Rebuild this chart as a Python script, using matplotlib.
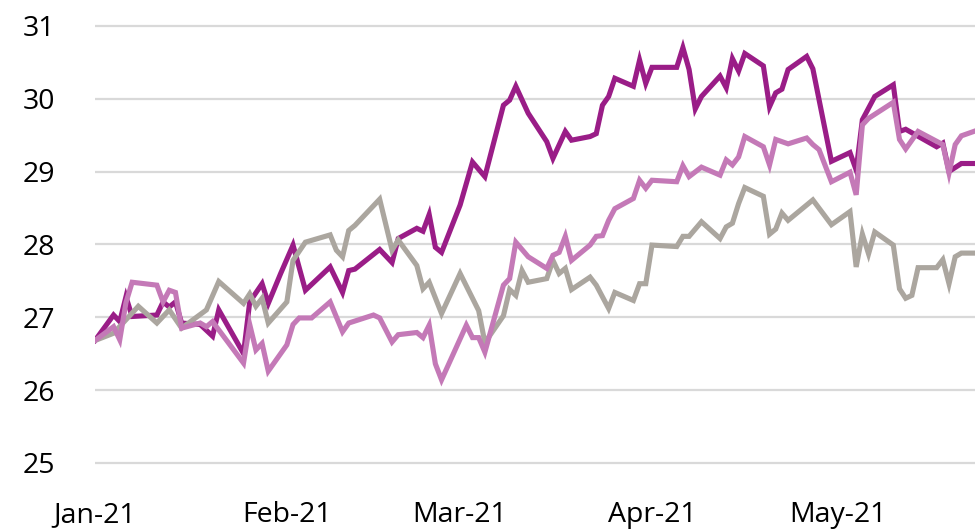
import pandas as pd
import matplotlib.pyplot as plt
import matplotlib.dates as mdates

plt.rcParams['font.family'] = ['Open Sans', 'DejaVu Sans']

# values, one list of dates + one of values per series
dates_purple = ['01-01', '01-04', '01-05', '01-06', '01-07', '01-11', '01-12', '01-13', '01-14',
                '01-15', '01-18', '01-20', '01-21', '01-25', '01-26', '01-28', '01-29', '01-31',
                '02-02', '02-04', '02-08', '02-10', '02-11', '02-12', '02-16', '02-18', '02-19',
                '02-22', '02-23', '02-24', '02-25', '02-26', '03-01', '03-03', '03-05', '03-08',
                '03-09', '03-10', '03-12', '03-15', '03-16', '03-18', '03-19', '03-22', '03-23',
                '03-24', '03-25', '03-26', '03-29', '03-30', '03-31', '04-01', '04-05', '04-06',
                '04-07', '04-08', '04-09', '04-12', '04-13', '04-14', '04-15', '04-16', '04-19',
                '04-20', '04-21', '04-22', '04-23', '04-26', '04-27', '04-30', '05-03', '05-04',
                '05-05', '05-07', '05-10', '05-11', '05-12', '05-17', '05-18', '05-19', '05-21',
                '05-24']
purple = [26.68, 27.03, 26.94, 27.28, 27.01, 27.03, 27.21, 27.14, 27.21,
          26.92, 26.90, 26.74, 27.10, 26.50, 27.21, 27.46, 27.19, 27.60,
          27.99, 27.37, 27.69, 27.34, 27.64, 27.66, 27.93, 27.75, 28.08,
          28.22, 28.18, 28.41, 27.96, 27.89, 28.54, 29.13, 28.93, 29.91,
          29.98, 30.17, 29.80, 29.41, 29.18, 29.55, 29.43, 29.48, 29.52,
          29.91, 30.03, 30.28, 30.17, 30.53, 30.21, 30.43, 30.43, 30.70,
          30.40, 29.86, 30.03, 30.31, 30.15, 30.55, 30.38, 30.62, 30.45,
          29.89, 30.08, 30.13, 30.40, 30.58, 30.41, 29.14, 29.26, 29.02,
          29.71, 30.03, 30.19, 29.55, 29.58, 29.34, 29.39, 29.00, 29.11,
          29.11]

dates_grey = ['01-01', '01-04', '01-08', '01-11', '01-13', '01-15', '01-19', '01-21', '01-25',
              '01-26', '01-27', '01-28', '01-29', '02-01', '02-02', '02-04', '02-08', '02-09',
              '02-10', '02-11', '02-12', '02-16', '02-18', '02-19', '02-22', '02-23', '02-24',
              '02-26', '03-01', '03-04', '03-05', '03-08', '03-09', '03-10', '03-11', '03-12',
              '03-15', '03-16', '03-17', '03-18', '03-19', '03-22', '03-23', '03-25', '03-26',
              '03-29', '03-30', '03-31', '04-01', '04-05', '04-06', '04-07', '04-09', '04-12',
              '04-13', '04-14', '04-15', '04-16', '04-19', '04-20', '04-21', '04-22', '04-23',
              '04-27', '04-30', '05-03', '05-04', '05-05', '05-06', '05-07', '05-10', '05-11',
              '05-12', '05-13', '05-14', '05-17', '05-18', '05-19', '05-20', '05-21', '05-24']
grey = [26.68, 26.78, 27.15, 26.92, 27.10, 26.85, 27.10, 27.49, 27.19,
        27.32, 27.15, 27.26, 26.92, 27.21, 27.78, 28.03, 28.13, 27.92,
        27.83, 28.19, 28.26, 28.62, 27.92, 28.06, 27.71, 27.39, 27.48,
        27.05, 27.60, 27.09, 26.65, 27.02, 27.38, 27.30, 27.64, 27.48,
        27.53, 27.78, 27.60, 27.67, 27.38, 27.55, 27.44, 27.12, 27.34,
        27.23, 27.46, 27.46, 27.99, 27.97, 28.11, 28.11, 28.31, 28.08,
        28.24, 28.29, 28.56, 28.78, 28.66, 28.14, 28.21, 28.43, 28.33,
        28.61, 28.27, 28.45, 27.69, 28.14, 27.87, 28.17, 27.99, 27.39,
        27.26, 27.30, 27.68, 27.68, 27.79, 27.46, 27.83, 27.88, 27.88]

dates_pink = ['01-01', '01-04', '01-05', '01-06', '01-07', '01-11', '01-12', '01-13', '01-14',
              '01-15', '01-18', '01-19', '01-20', '01-25', '01-26', '01-27', '01-28', '01-29',
              '02-01', '02-02', '02-03', '02-05', '02-08', '02-10', '02-11', '02-15', '02-16',
              '02-18', '02-19', '02-22', '02-23', '02-24', '02-25', '02-26', '03-02', '03-03',
              '03-04', '03-05', '03-08', '03-09', '03-10', '03-12', '03-15', '03-16', '03-17',
              '03-18', '03-19', '03-22', '03-23', '03-24', '03-25', '03-26', '03-29', '03-30',
              '03-31', '04-01', '04-05', '04-06', '04-07', '04-09', '04-12', '04-13', '04-14',
              '04-15', '04-16', '04-19', '04-20', '04-21', '04-23', '04-26', '04-27', '04-28',
              '04-30', '05-03', '05-04', '05-05', '05-06', '05-10', '05-11', '05-12', '05-14',
              '05-18', '05-19', '05-20', '05-21', '05-24']
pink = [26.68, 26.87, 26.69, 27.20, 27.48, 27.44, 27.21, 27.37, 27.34,
        26.85, 26.92, 26.87, 26.94, 26.37, 26.90, 26.55, 26.64, 26.26,
        26.62, 26.90, 26.99, 26.99, 27.21, 26.80, 26.92, 27.03, 26.99,
        26.66, 26.76, 26.79, 26.72, 26.89, 26.36, 26.14, 26.89, 26.72,
        26.72, 26.52, 27.44, 27.53, 28.03, 27.83, 27.67, 27.85, 27.89,
        28.11, 27.78, 27.99, 28.11, 28.12, 28.33, 28.49, 28.63, 28.88,
        28.77, 28.88, 28.86, 29.08, 28.93, 29.06, 28.95, 29.16, 29.09,
        29.20, 29.48, 29.34, 29.09, 29.44, 29.38, 29.46, 29.37, 29.30,
        28.86, 28.99, 28.68, 29.64, 29.73, 29.95, 29.44, 29.31, 29.55,
        29.37, 28.98, 29.37, 29.49, 29.58]

month_ticks = ['01-01', '02-01', '03-01', '04-01', '05-01']


def to_dates(md):
    return pd.to_datetime(['2021-' + s for s in md])


fig = plt.figure(figsize=(9.75, 5.32), dpi=100)
ax = fig.add_axes([95 / 975, 1 - 468 / 532, 880 / 975, 448 / 532])

ax.plot(to_dates(dates_purple), purple, color='#9a1d87', lw=3.7, solid_joinstyle='miter')
ax.plot(to_dates(dates_grey), grey, color='#aba69f', lw=3.7, solid_joinstyle='miter')
ax.plot(to_dates(dates_pink), pink, color='#c479b7', lw=3.7, solid_joinstyle='miter')

start = mdates.date2num(pd.Timestamp('2021-01-01'))
ax.set_xlim(start, start + 142.2)
ax.set_ylim(24.93, 31.08)

ax.set_yticks(range(25, 32))
ax.set_xticks(to_dates(month_ticks))
ax.xaxis.set_major_formatter(mdates.DateFormatter('%b-%y'))

ax.grid(axis='y', color='#d9d9d9', lw=1.6)
ax.set_axisbelow(True)
for s in ax.spines.values():
    s.set_visible(False)
ax.tick_params(axis='both', length=0, labelsize=20.5, labelcolor='#000000')
ax.tick_params(axis='y', pad=29)
ax.tick_params(axis='x', pad=24)

fig.savefig('out.png', dpi=100)
